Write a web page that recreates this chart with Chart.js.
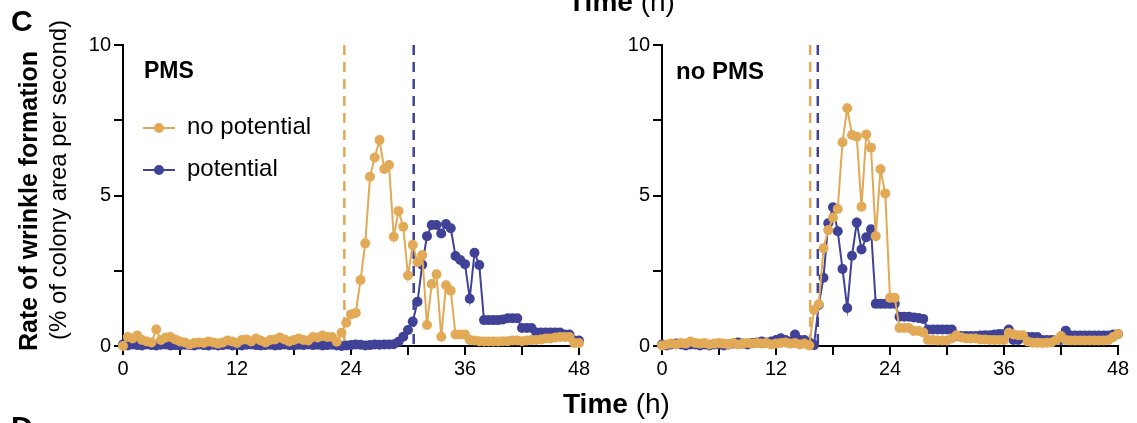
<!DOCTYPE html>
<html>
<head>
<meta charset="utf-8">
<script src="https://cdn.jsdelivr.net/npm/chart.js@4.4.1/dist/chart.umd.min.js"></script>
<style>
  body { margin: 0; background: #fff; width: 1137px; height: 423px; overflow: hidden; position: relative;
         font-family: "Liberation Sans", Arial, Helvetica, sans-serif; color: #000; }
  canvas { position: absolute; top: 0; }
  .txt { position: absolute; white-space: nowrap; line-height: 1; }
  .bold { font-weight: bold; }
  .rot { transform: translate(-50%, -50%) rotate(-90deg); }
  .sw { position: absolute; left: -44px; top: 13px; width: 32px; height: 2px; }
  .sw::after { content: ''; position: absolute; left: 11px; top: -4px; width: 10px; height: 10px;
               border-radius: 50%; background: inherit; }
</style>
</head>
<body>
<canvas id="pmsChart" width="600" height="423" style="left:0"></canvas>
<canvas id="noPmsChart" width="597" height="423" style="left:540px"></canvas>

<div class="txt bold" style="left:11px; top:6px; font-size:30px">C</div>
<div class="txt bold rot" style="left:28px; top:201px; font-size:25px">Rate of wrinkle formation</div>
<div class="txt rot" style="left:58px; top:180px; font-size:24px">(% of colony area per second)</div>
<div class="txt" style="left:568px; top:-12px; font-size:28px"><b>Time</b> (h)</div>
<div class="txt" style="left:563px; top:390px; font-size:28px"><b>Time</b> (h)</div>
<div class="txt bold" style="left:11px; top:412px; font-size:30px">D</div>

<div class="txt bold" style="left:144px; top:59px; font-size:23px">PMS</div>
<div class="txt bold" style="left:676px; top:59px; font-size:24px">no PMS</div>

<div class="txt" style="left:187px; top:114px; font-size:24px"><span class="sw" style="background:#e2a956"></span>no potential</div>
<div class="txt" style="left:187px; top:156px; font-size:24px"><span class="sw" style="background:#3f4296"></span>potential</div>

<script>
// sampling times, every half hour from 0 to 48 h
const hours = Array.from({ length: 97 }, (_, i) => i / 2);

// PMS panel
const pmsNoPotential = [
  0.00, 0.30, 0.25, 0.35, 0.20, 0.15, 0.12, 0.55, 0.20, 0.28, 0.30, 0.22,
  0.15, 0.12, 0.05, 0.10, 0.12, 0.10, 0.15, 0.12, 0.08, 0.12, 0.18, 0.15,
  0.10, 0.20, 0.22, 0.15, 0.25, 0.18, 0.12, 0.20, 0.22, 0.28, 0.22, 0.15,
  0.20, 0.25, 0.20, 0.18, 0.30, 0.28, 0.35, 0.30, 0.30, 0.14, 0.44, 0.77,
  1.05, 1.10, 2.19, 3.41, 5.62, 6.26, 6.84, 5.88, 6.01, 3.63, 4.48, 3.96,
  2.34, 3.36, 2.78, 3.02, 0.70, 2.06, 2.38, 0.31, 2.02, 1.84, 0.38, 0.38,
  0.38, 0.20, 0.18, 0.16, 0.15, 0.15, 0.15, 0.15, 0.16, 0.16, 0.18, 0.18,
  0.16, 0.18, 0.20, 0.20, 0.22, 0.25, 0.25, 0.28, 0.30, 0.30, 0.30, 0.10,
  0.10
];
const pmsPotential = [
  0.05, 0.02, 0.05, 0.03, 0.02, 0.05, 0.03, 0.02, 0.04, 0.05, 0.02, 0.03,
  0.02, 0.04, 0.03, 0.02, 0.05, 0.03, 0.02, 0.04, 0.02, 0.03, 0.05, 0.02,
  0.03, 0.02, 0.04, 0.05, 0.03, 0.02, 0.03, 0.04, 0.02, 0.03, 0.05, 0.03,
  0.02, 0.04, 0.03, 0.05, 0.03, 0.04, 0.02, 0.03, 0.04, 0.02, 0.00, 0.02,
  0.03, 0.05, 0.04, 0.02, 0.03, 0.05, 0.04, 0.05, 0.05, 0.06, 0.14, 0.31,
  0.53, 0.81, 1.47, 2.70, 3.65, 4.02, 4.02, 3.74, 4.05, 3.91, 2.99, 2.86,
  2.72, 1.57, 3.10, 2.69, 0.86, 0.86, 0.86, 0.86, 0.88, 0.92, 0.92, 0.92,
  0.60, 0.60, 0.60, 0.45, 0.45, 0.45, 0.45, 0.45, 0.45, 0.38, 0.38, 0.18,
  0.18
];
const pmsOnsets = [23.3, 30.6];   // no potential, potential

// no PMS panel
const noPmsNoPotential = [
  0.02, 0.05, 0.08, 0.05, 0.10, 0.08, 0.15, 0.10, 0.08, 0.10, 0.05, 0.08,
  0.10, 0.08, 0.05, 0.10, 0.05, 0.08, 0.10, 0.08, 0.10, 0.08, 0.10, 0.05,
  0.08, 0.10, 0.12, 0.08, 0.10, 0.05, 0.08, 0.02, 1.20, 1.39, 3.25, 3.85,
  4.26, 4.55, 6.77, 7.90, 7.01, 6.95, 4.63, 7.03, 6.59, 3.65, 5.87, 5.07,
  1.60, 1.60, 0.60, 0.60, 0.60, 0.50, 0.50, 0.45, 0.20, 0.20, 0.18, 0.18,
  0.18, 0.25, 0.36, 0.28, 0.25, 0.25, 0.25, 0.22, 0.22, 0.20, 0.20, 0.20,
  0.20, 0.44, 0.38, 0.36, 0.36, 0.15, 0.11, 0.11, 0.10, 0.11, 0.12, 0.20,
  0.33, 0.20, 0.18, 0.18, 0.18, 0.18, 0.18, 0.18, 0.18, 0.18, 0.20, 0.30,
  0.40
];
const noPmsPotential = [
  0.05, 0.02, 0.05, 0.08, 0.05, 0.02, 0.05, 0.05, 0.02, 0.05, 0.02, 0.05,
  0.05, 0.02, 0.05, 0.08, 0.12, 0.08, 0.05, 0.10, 0.12, 0.15, 0.12, 0.15,
  0.20, 0.26, 0.20, 0.15, 0.38, 0.20, 0.20, 0.12, 0.03, 1.36, 2.27, 4.08,
  4.61, 3.81, 2.56, 1.26, 3.00, 4.10, 3.21, 3.61, 3.88, 1.40, 1.40, 1.40,
  1.40, 1.40, 0.97, 0.97, 0.97, 0.95, 0.93, 0.90, 0.55, 0.55, 0.55, 0.55,
  0.55, 0.55, 0.33, 0.33, 0.33, 0.33, 0.33, 0.35, 0.36, 0.36, 0.38, 0.40,
  0.40, 0.55, 0.20, 0.20, 0.30, 0.30, 0.30, 0.30, 0.20, 0.20, 0.20, 0.20,
  0.20, 0.51, 0.35, 0.35, 0.35, 0.35, 0.35, 0.35, 0.35, 0.35, 0.35, 0.38,
  0.40
];
const noPmsOnsets = [15.6, 16.4];

const yTicks = [0, 5, 10];
const xTicks = [0, 12, 24, 36, 48];

const ORANGE = '#e2a956';
const BLUE = '#3f4296';
const FONT = '"Liberation Sans", Arial, Helvetica, sans-serif';

// dashed vertical lines marking onset of wrinkling
const onsetLines = {
  id: 'onsetLines',
  beforeDatasetsDraw(chart, args, opts) {
    const { ctx, chartArea, scales } = chart;
    ctx.save();
    ctx.lineWidth = 2.5;
    ctx.setLineDash([10, 7]);
    opts.lines.forEach(l => {
      const x = scales.x.getPixelForValue(l.at);
      ctx.strokeStyle = l.color;
      ctx.beginPath();
      ctx.moveTo(x, chartArea.top);
      ctx.lineTo(x, scales.y.getPixelForValue(0));
      ctx.stroke();
    });
    ctx.restore();
  }
};

function series(label, values, color) {
  return {
    label: label,
    data: values.map((v, i) => ({ x: hours[i], y: v })),
    borderColor: color,
    backgroundColor: color,
    borderWidth: 2,
    pointRadius: 5,
    pointBorderWidth: 0,
    pointBackgroundColor: color,
    pointHoverRadius: 5,
    tension: 0,
    clip: false
  };
}

function makeChart(id, noPot, pot, onsets, yWidth, padRight) {
  const axisStyle = {
    grid: { display: true, drawOnChartArea: false, drawTicks: true, tickLength: 9, color: '#000', lineWidth: 2 },
    border: { display: true, color: '#000', width: 2 }
  };
  return new Chart(document.getElementById(id).getContext('2d'), {
    type: 'line',
    data: {
      datasets: [
        series('no potential', noPot, ORANGE),
        series('potential', pot, BLUE)
      ]
    },
    options: {
      responsive: false,
      animation: false,
      events: [],
      layout: { padding: { top: 45, right: padRight, bottom: 37, left: 0 } },
      plugins: {
        legend: { display: false },
        tooltip: { enabled: false },
        onsetLines: { lines: [{ at: onsets[0], color: ORANGE }, { at: onsets[1], color: BLUE }] }
      },
      scales: {
        x: {
          type: 'linear', min: 0, max: 48,
          ...axisStyle,
          afterFit: s => { s.height = 40; },
          ticks: {
            stepSize: 6, autoSkip: false, maxRotation: 0, padding: 2, color: '#000',
            font: { family: FONT, size: 20 },
            callback: v => xTicks.includes(v) ? v : ''
          }
        },
        y: {
          min: 0, max: 10,
          ...axisStyle,
          afterFit: s => { s.width = yWidth; },
          ticks: {
            stepSize: 2.5, autoSkip: false, padding: 3, color: '#000',
            font: { family: FONT, size: 20 },
            callback: v => yTicks.includes(v) ? v : ''
          }
        }
      }
    },
    plugins: [onsetLines]
  });
}

makeChart('pmsChart', pmsNoPotential, pmsPotential, pmsOnsets, 123, 21);
makeChart('noPmsChart', noPmsNoPotential, noPmsPotential, noPmsOnsets, 122, 19);
</script>
</body>
</html>
